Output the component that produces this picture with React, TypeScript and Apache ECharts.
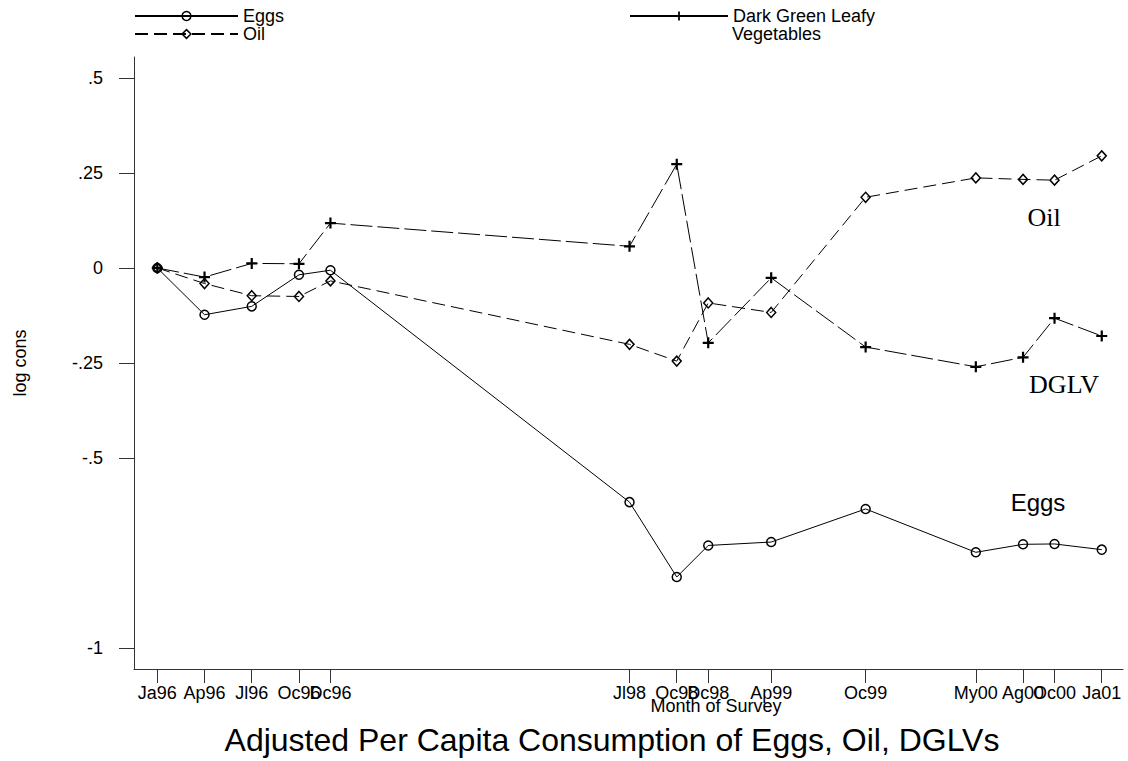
import React, { useEffect, useRef } from 'react';
import * as echarts from 'echarts';

// Months since January 1996 for each survey round
const monthIndex = [0, 3, 6, 9, 11, 30, 33, 35, 39, 45, 52, 55, 57, 60];
const monthLabels = ['Ja96', 'Ap96', 'Jl96', 'Oc96', 'Dc96', 'Jl98', 'Oc98', 'Dc98', 'Ap99', 'Oc99', 'My00', 'Ag00', 'Oc00', 'Ja01'];

const eggs = [0, -0.123, -0.101, -0.018, -0.006, -0.616, -0.813, -0.73, -0.721, -0.634, -0.748, -0.727, -0.726, -0.741];
const oil = [0, -0.041, -0.073, -0.075, -0.034, -0.201, -0.245, -0.092, -0.117, 0.186, 0.237, 0.233, 0.231, 0.295];
const dglv = [0, -0.024, 0.012, 0.011, 0.118, 0.057, 0.273, -0.197, -0.026, -0.208, -0.26, -0.235, -0.132, -0.179];

const yTickValues = [-1, -0.5, -0.25, 0, 0.25, 0.5];
const yTickLabels = ['-1', '-.5', '-.25', '0', '.25', '.5'];

const seriesNames = ['Eggs', 'Oil', 'Dark Green Leafy Vegetables'];

const PLUS = 'path://M4,0H6V4H10V6H6V10H4V6H0V4H4Z';
const SANS = '"Liberation Sans", Arial, sans-serif';
const SERIF = '"Liberation Serif", "Times New Roman", serif';

export default function App() {
  const ref = useRef<HTMLDivElement>(null);
  useEffect(() => {
    const chart = echarts.init(ref.current!, null, { renderer: 'svg' });
    const pair = (vals: number[]) => monthIndex.map((m, i) => [m, vals[i]]);
    const findIdx = (arr: number[], v: number) => arr.findIndex((a) => Math.abs(a - v) < 1e-6);
    chart.setOption({
      animation: false,
      backgroundColor: '#fff',
      textStyle: { fontFamily: SANS },
      grid: { left: 134, right: 5, top: 57, bottom: 92 },
      legend: [
        {
          data: [seriesNames[0], seriesNames[1]],
          orient: 'vertical',
          left: 134,
          top: 7,
          padding: 0,
          itemWidth: 103,
          itemHeight: 11,
          itemGap: 0,
          itemStyle: { borderWidth: 1.5 },
          textStyle: { fontSize: 18, color: '#000', lineHeight: 17, fontFamily: SANS },
        },
        {
          data: [seriesNames[2]],
          left: 629,
          top: 7,
          padding: 0,
          itemWidth: 98,
          itemHeight: 11,
          formatter: () => 'Dark Green Leafy',
          lineStyle: { type: 'solid' },
          textStyle: { fontSize: 18, color: '#000', lineHeight: 17, fontFamily: SANS },
        },
      ],
      xAxis: {
        type: 'value',
        min: -1.48,
        max: 61.35,
        splitLine: { show: false },
        axisLine: { show: true, onZero: false, lineStyle: { color: '#333', width: 1 } },
        axisTick: { show: true, customValues: monthIndex, length: 14, lineStyle: { color: '#333', width: 1 } },
        axisLabel: {
          customValues: monthIndex,
          formatter: (v: number) => {
            const i = findIdx(monthIndex, v);
            return i >= 0 ? monthLabels[i] : '';
          },
          color: '#000',
          fontSize: 18,
          fontFamily: SANS,
          margin: 15,
          hideOverlap: false,
        },
      },
      yAxis: {
        type: 'value',
        min: -1.055,
        max: 0.555,
        name: 'log cons',
        nameLocation: 'middle',
        nameRotate: 90,
        nameGap: 105,
        nameTextStyle: { fontSize: 18, color: '#000', fontFamily: SANS },
        splitLine: { show: false },
        axisLine: { show: true, onZero: false, lineStyle: { color: '#333', width: 1 } },
        axisTick: { show: true, customValues: yTickValues, length: 15, lineStyle: { color: '#333', width: 1 } },
        axisLabel: {
          customValues: yTickValues,
          formatter: (v: number) => {
            const i = findIdx(yTickValues, v);
            return i >= 0 ? yTickLabels[i] : '';
          },
          color: '#000',
          fontSize: 18,
          fontFamily: SANS,
          margin: 31,
        },
      },
      series: [
        {
          name: seriesNames[0],
          type: 'line',
          data: pair(eggs),
          symbol: 'circle',
          symbolSize: 9,
          lineStyle: { color: '#000', width: 1, type: 'solid' },
          itemStyle: { color: 'rgba(255,255,255,0)', borderColor: '#000', borderWidth: 1.5 },
        },
        {
          name: seriesNames[1],
          type: 'line',
          data: pair(oil),
          symbol: 'diamond',
          symbolSize: [9, 10],
          lineStyle: { color: '#000', width: 1, type: [13, 6] },
          itemStyle: { color: 'rgba(255,255,255,0)', borderColor: '#000', borderWidth: 1.5 },
        },
        {
          name: seriesNames[2],
          type: 'line',
          data: pair(dglv),
          symbol: PLUS,
          symbolSize: 11,
          lineStyle: { color: '#000', width: 1, type: [22, 5] },
          itemStyle: { color: '#000', borderWidth: 0 },
        },
      ],
      graphic: [
        {
          type: 'text',
          left: 732,
          top: 25,
          style: { text: 'Vegetables', fontSize: 18, fontFamily: SANS, fill: '#000' },
        },
        {
          type: 'text',
          x: 716,
          y: 706,
          style: { text: 'Month of Survey', fontSize: 18, fontFamily: SANS, fill: '#000', align: 'center', verticalAlign: 'middle' },
        },
        {
          type: 'text',
          x: 612,
          y: 740,
          style: {
            text: 'Adjusted Per Capita Consumption of Eggs, Oil, DGLVs',
            fontSize: 32,
            fontFamily: SANS,
            fill: '#000',
            align: 'center',
            verticalAlign: 'middle',
          },
        },
        {
          type: 'text',
          x: 1044,
          y: 217,
          style: { text: 'Oil', fontSize: 26, fontFamily: SERIF, fill: '#000', align: 'center', verticalAlign: 'middle' },
        },
        {
          type: 'text',
          x: 1064,
          y: 384,
          style: { text: 'DGLV', fontSize: 26, fontFamily: SERIF, fill: '#000', align: 'center', verticalAlign: 'middle' },
        },
        {
          type: 'text',
          x: 1038,
          y: 502,
          style: { text: 'Eggs', fontSize: 24, fontFamily: SANS, fill: '#000', align: 'center', verticalAlign: 'middle' },
        },
      ],
    });
    return () => chart.dispose();
  }, []);
  return (
    <div
      ref={ref}
      style={{ position: 'fixed', left: 0, top: 0, width: 1128, height: 761, background: '#fff' }}
    />
  );
}
